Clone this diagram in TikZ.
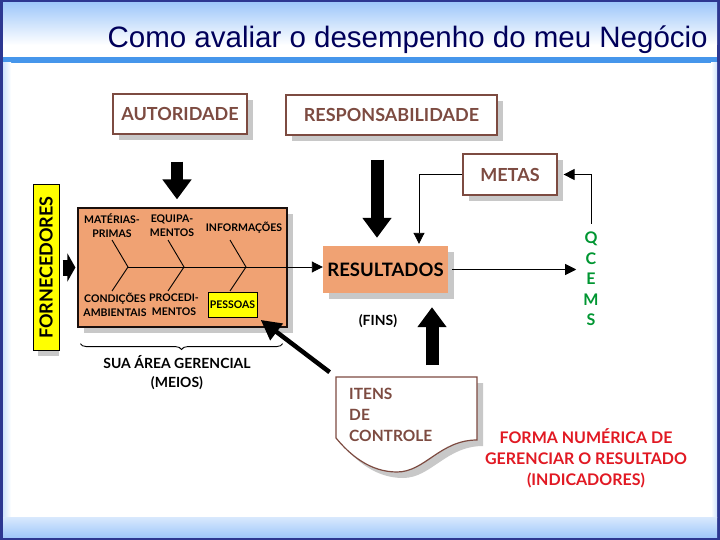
\documentclass[tikz,border=0pt]{standalone}
\usepackage{fontspec}
\setmainfont{Lato}
\newfontfamily\arialfont{Liberation Sans}
\usetikzlibrary{arrows.meta,shadows,decorations.pathreplacing}

\definecolor{moldura}{RGB}{45,55,145}
\definecolor{azulclaro}{RGB}{160,200,250}
\definecolor{azullinha}{RGB}{70,150,235}
\definecolor{marinho}{RGB}{0,0,90}
\definecolor{marrom}{RGB}{125,75,65}
\definecolor{laranja}{RGB}{240,162,115}
\definecolor{amarelo}{RGB}{255,255,0}
\definecolor{verde}{RGB}{0,150,50}
\definecolor{vermelho}{RGB}{225,25,35}
\definecolor{sombra}{RGB}{200,200,200}

\begin{document}
\begin{tikzpicture}[x=1pt, y=-1pt,
    sombreado/.style={drop shadow={shadow xshift=6pt, shadow yshift=-6pt, fill=sombra, opacity=1}},
    caixa/.style={rectangle, draw=marrom, line width=1.2pt, fill=white, sombreado, text=marrom, inner sep=0pt, font=\bfseries\fontsize{18}{20}\selectfont},
    laranjabox/.style={rectangle, fill=laranja, sombreado, inner sep=0pt},
    amarelobox/.style={rectangle, draw=black, line width=1pt, fill=amarelo, inner sep=0pt},
    rotulo/.style={align=center, inner sep=0pt, font=\bfseries\fontsize{10.5}{14}\selectfont},
    texto/.style={align=center, inner sep=0pt, font=\bfseries\fontsize{14}{19}\selectfont},
    seta/.style={line width=0.9pt, -{Triangle[length=11pt, width=11pt]}},
    bloco/.style={line width=13pt, -{Triangle[length=20pt, width=28pt]}},
    seta grossa/.style={line width=4.5pt, -{Triangle[length=20pt, width=20pt]}}]
  \useasboundingbox (0,0) rectangle (720,540);

  % moldura do slide
  \fill[moldura] (0,0) rectangle (720,540);
  \fill[white] (3,3) rectangle (717,537);
  \shade[top color=azulclaro, bottom color=white] (3,3) rectangle (717,45);
  \fill[azullinha] (3,57) rectangle (717,63);
  \shade[left color=azulclaro!50, right color=white] (3,63) rectangle (11,517);
  \shade[left color=white, right color=azulclaro!50] (711,63) rectangle (717,517);
  \shade[top color=azulclaro!40, bottom color=azulclaro] (3,517) rectangle (717,537);

  \node[anchor=base east, inner sep=0pt, text=marinho, font=\arialfont\fontsize{29.5}{30}\selectfont] (titulo) at (708,48) {Como avaliar o desempenho do meu Negócio};

  % caixas de cima
  \node[caixa, minimum width=134pt, minimum height=40pt] (autoridade) at (180,114) {AUTORIDADE};
  \node[caixa, minimum width=211pt, minimum height=40pt] (responsab) at (391.5,115) {RESPONSABILIDADE};
  \node[caixa, minimum width=94pt, minimum height=41pt] (metas) at (510,174.5) {METAS};
  \node[laranjabox, minimum width=125pt, minimum height=47pt, font=\bfseries\fontsize{18.5}{20}\selectfont] (resultados) at (385.5,269.5) {RESULTADOS};
  \node[texto] (fins) at (378,321) {(FINS)};
  \node[align=center, inner sep=0pt, text=verde, font=\bfseries\fontsize{16}{20.5}\selectfont] (qcems) at (591,279) {Q\\C\\E\\M\\S};

  % diagrama de causa e efeito
  \fill[sombra] (38,200) rectangle (59,356);
  \node[amarelobox, rotate=90, minimum width=165pt, minimum height=26pt, font=\bfseries\fontsize{18}{20}\selectfont] (fornecedores) at (46,267.5) {FORNECEDORES};
  \node[laranjabox, draw=black!80!marrom, line width=1.2pt, minimum width=209pt, minimum height=119pt] (area) at (182.5,267.5) {};
  \node[rotulo] (materias) at (112,226) {MATÉRIAS-\\PRIMAS};
  \node[rotulo] (equipamentos) at (172,226) {EQUIPA-\\MENTOS};
  \node[rotulo] (informacoes) at (244,228) {INFORMAÇÕES};
  \node[rotulo] (condicoes) at (115,305) {CONDIÇÕES\\AMBIENTAIS};
  \node[rotulo] (procedimentos) at (174,305) {PROCEDI-\\MENTOS};
  \node[amarelobox, minimum width=49pt, minimum height=25pt, font=\bfseries\fontsize{10.5}{12}\selectfont] (pessoas) at (232.5,304.5) {PESSOAS};
  \coordinate (espinha) at (128,267);
  \foreach \x in {128,184,246}
    \draw[line width=0.9pt] (\x-16,240) -- (\x,267) -- (\x-16,291);
  \draw[line width=0.9pt, decorate, decoration={brace, amplitude=6pt}] ([xshift=-5pt,yshift=-16pt]area.south east) -- ([xshift=3pt,yshift=-16pt]area.south west);
  \node[texto] (meios) at (177,372.5) {SUA ÁREA GERENCIAL\\(MEIOS)};

  % itens de controle
  \coordinate (docto) at (336,377);
  \draw[draw=marrom, line width=1.2pt, fill=white, sombreado] (docto) -- (477,377) -- (477,440) .. controls (440,440) and (425,472) .. (397,472) .. controls (370,472) and (350,455) .. (336,438) -- cycle;
  \node[anchor=north west, align=left, inner sep=0pt, text=marrom, font=\bfseries\fontsize{15.5}{21}\selectfont] (itens) at (349,388) {ITENS\\DE\\CONTROLE};
  \node[align=center, inner sep=0pt, text=vermelho, font=\bfseries\fontsize{16}{21}\selectfont] (indicadores) at (586,458) {FORMA NUMÉRICA DE\\GERENCIAR O RESULTADO\\(INDICADORES)};

  % setas
  \draw[bloco, line width=12pt, shorten <=27pt, shorten >=8pt] ([xshift=-3pt]autoridade.south) -- ([xshift=-3pt]autoridade.south |- area.north);
  \draw[bloco, shorten <=24pt, shorten >=8pt] ([xshift=-14.5pt]responsab.south) -- ([xshift=-14.5pt]responsab.south |- resultados.north);
  \draw[bloco, shorten <=12pt, shorten >=14pt] ([xshift=96pt]docto) -- ([xshift=96pt]docto |- resultados.south);
  \draw[line width=16pt, -{Triangle[length=8pt, width=28pt]}, shorten <=3pt, shorten >=2pt] (fornecedores.south) -- (fornecedores.south -| area.west);
  \draw[seta grossa, shorten <=8pt, shorten >=4pt] (docto) -- (pessoas.south east);
  \draw[seta] (espinha) -- (espinha -| resultados.west);
  \draw[seta, shorten <=4pt, shorten >=7pt] (resultados.east) -- (resultados.east -| qcems.west);
  \draw[seta, shorten >=6pt] ([yshift=8pt]qcems.north) |- (metas.east);
  \draw[seta, shorten >=2pt] (metas.west) -| ([xshift=33.5pt]resultados.north);
\end{tikzpicture}
\end{document}
